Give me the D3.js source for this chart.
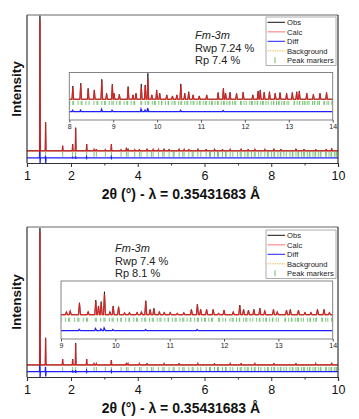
<!DOCTYPE html>
<html><head><meta charset="utf-8">
<script src="https://cdn.jsdelivr.net/npm/d3@7/dist/d3.min.js"></script>
<style>
html,body{margin:0;padding:0;background:#fff;}
svg{display:block;font-family:"Liberation Sans",Arial,sans-serif;}
</style></head>
<body><svg id="c" width="359" height="419"></svg>
<script>
// ---------------- DATA ----------------
const xTickValues = [0.682, 2, 4, 6, 8, 10];
const xTickLabels = ["1", "2", "4", "6", "8", "10"];
const xMinorTicks = [3, 5, 7, 9];
const insetTopTicks = [8, 9, 10, 11, 12, 13, 14];
const insetBottomTicks = [9, 10, 11, 12, 13, 14];
const legendLabels = ["Obs", "Calc", "Diff", "Background", "Peak markers"];
const topStats = ["Fm-3m", "Rwp 7.24 %", "Rp 7.4 %"];
const bottomStats = ["Fm-3m", "Rwp 7.4 %", "Rp 8.1 %"];
const xTitle = "2θ (°) - λ = 0.35431683 Å";
const yTitle = "Intensity";

// Peak-marker (reflection) positions, 2θ in degrees
const reflections = [1.07,1.24,1.75,2.05,2.14,2.47,2.69,2.76,3.03,3.21,3.50,3.66,3.71,3.91,4.05,4.10,4.28,4.41,4.46,4.62,4.75,4.79,4.94,5.06,5.09,5.24,5.35,5.39,5.53,5.63,5.66,5.80,5.89,6.05,6.15,6.18,6.30,6.39,6.42,6.54,6.63,6.65,6.77,6.85,6.99,7.07,7.10,7.21,7.28,7.31,7.41,7.49,7.52,7.62,7.69,7.81,7.89,7.91,8.01,8.08,8.10,8.20,8.27,8.29,8.38,8.45,8.56,8.63,8.65,8.74,8.80,8.82,8.91,8.97,9.00,9.08,9.14,9.16,9.25,9.31,9.33,9.41,9.47,9.49,9.63,9.65,9.73,9.79,9.81,9.89,9.94,9.96,10.04,10.10,10.11,10.19,10.25,10.26,10.34,10.39,10.41,10.49,10.54,10.56,10.63,10.68,10.70,10.77,10.82,10.84,10.91,10.97,10.98,11.05,11.10,11.12,11.19,11.24,11.26,11.32,11.38,11.39,11.46,11.51,11.53,11.59,11.64,11.66,11.72,11.77,11.79,11.90,11.92,11.98,12.03,12.11,12.15,12.17,12.23,12.28,12.29,12.36,12.40,12.42,12.48,12.53,12.60,12.65,12.66,12.72,12.77,12.78,12.84,12.89,12.90,12.96,13.00,13.12,13.13,13.19,13.24,13.25,13.31,13.35,13.37,13.42,13.46,13.54,13.58,13.59,13.65,13.69,13.70,13.80,13.81,13.87,13.91,13.98];

// Top sample, full range: peak positions and heights (obs / calc)
const topPos  = [1.07,1.24,1.75,2.05,2.14,2.47,2.69,2.76,3.03,3.21,3.50,3.66,3.71,3.91,4.05,4.28,4.46,4.62,4.79,4.94,5.24,5.39,5.53,5.80,6.05,6.30,6.54,6.77,7.10,7.31,7.51,7.81,8.08,8.29,8.74,8.98,9.33,9.65,9.81];
const topObs  = [100,21,3.7,5.0,17,5.0,1.0,1.2,0.8,5.0,0.8,2.2,1.5,0.8,1.2,1.5,1.0,1.0,1.5,1.2,1.5,1.0,1.2,1.5,1.2,1.5,1.2,1.0,1.5,1.2,1.0,1.0,1.5,1.2,1.5,1.2,1.2,1.2,2.0];
const topCalc = [96,21,3.7,4.8,16.5,5.0,1.0,1.2,0.8,5.0,0.8,2.2,1.5,0.8,1.2,1.5,1.0,1.0,1.5,1.2,1.5,1.0,1.2,1.5,1.2,1.5,1.2,1.0,1.5,1.2,1.0,1.0,1.5,1.2,1.5,1.2,1.2,1.2,2.0];
const topDiffPos  = [1.07,1.24,2.05,2.14,2.47,3.21];
const topDiffUp   = [11,1.5,0.8,1.0,0.6,0.6];
const topDiffDown = [-4,-4,-0.6,-0.8,-0.4,-0.4];

// Top sample, inset 8–14
const insTopPos  = [8.08,8.26,8.43,8.57,8.74,8.85,8.98,9.02,9.14,9.34,9.45,9.52,9.64,9.73,9.79,9.88,9.99,10.06,10.22,10.35,10.45,10.54,10.63,10.72,10.82,10.96,11.13,11.39,11.51,11.56,11.66,11.81,11.96,12.18,12.30,12.35,12.44,12.56,12.69,12.80,12.95,13.08,13.18,13.24,13.41,13.56,13.71,13.86];
const insTopObs  = [51,62,42,36,77,23,58,23,19,49,17,23,59,55,100,17,36,23,17,13,17,59,23,29,17,13,17,26,42,23,27,23,27,17,32,36,27,29,23,26,23,26,29,32,23,19,23,26];
const insTopCalc = [48,58,40,34,72,21,55,21,18,46,16,22,49,52,80,16,34,22,16,12,16,55,22,27,16,12,16,25,40,22,26,22,26,16,30,34,26,27,22,25,22,25,27,30,22,18,22,25];
const insTopDiffPos = [8.08,8.26,8.74,8.98,9.64,9.73,9.79,10.54,11.51];
const insTopDiffUp  = [5,6,9,5,10,6,14,5,4];

// Bottom sample, full range
const botPos  = [1.07,1.24,1.75,2.05,2.14,2.47,2.69,2.76,3.21,3.66,3.71,4.05,4.28,4.79,5.24,5.80,6.30,6.77,7.10,7.51,8.08,8.74,9.33,9.81];
const botObs  = [100,19.6,4.3,4.3,16,4.3,1.0,1.0,3.6,1.5,1.0,1.0,1.2,1.0,1.2,1.0,1.2,1.0,1.2,1.0,1.2,1.2,1.0,1.5];
const botCalc = [97,20,4.3,4.1,15.5,4.3,1.0,1.0,3.6,1.5,1.0,1.0,1.2,1.0,1.2,1.0,1.2,1.0,1.2,1.0,1.2,1.2,1.0,1.5];
const botDiffPos  = [1.07,1.24,2.05,2.14,2.47,3.21];
const botDiffUp   = [19,3.6,1.0,1.2,0.6,0.6];
const botDiffDown = [-4,-3.6,-0.8,-1.0,-0.4,-0.4];

// Bottom sample, inset 9–14
const insBotPos  = [9.10,9.17,9.34,9.50,9.64,9.69,9.74,9.80,9.90,9.96,10.06,10.17,10.26,10.40,10.48,10.56,10.64,10.71,10.81,10.90,11.01,11.14,11.26,11.40,11.51,11.57,11.68,11.80,11.90,12.00,12.17,12.29,12.36,12.45,12.55,12.66,12.75,12.91,12.98,13.15,13.22,13.37,13.49,13.60,13.72,13.84,13.94];
const insBotObs  = [13,17,52,13,64,38,57,100,13,38,35,9,10,10,13,61,23,28,13,10,10,6,9,23,46,23,23,23,6,20,13,42,23,20,23,28,17,23,13,20,23,20,10,10,23,23,10];
const insBotCalc = [12,16,50,12,58,36,52,90,12,36,33,8,9,9,12,58,22,27,12,9,9,6,8,22,44,22,22,22,6,19,12,40,22,19,22,27,16,22,12,19,22,19,9,9,22,22,9];
const insBotDiffPos = [9.34,9.64,9.74,9.80,9.96,10.56,11.51];
const insBotDiffUp  = [6,9,7,12,5,5,5];

// ---------------- DRAWING ----------------
const svg = d3.select("#c");
const C = {obs:"#111", calc:"rgba(230,30,30,0.85)", calcLeg:"#ff9a9a", diff:"#1f1fff", bg:"#f0a830", mk:"#6cbf6c", frame:"#333", frameTop:"#999"};

function profile(pos, h, hw, x0, x1) {
  const pts = [[x0, 0]];
  pos.forEach((p, i) => { pts.push([p - hw, 0], [p, h[i]], [p + hw, 0]); });
  pts.push([x1, 0]);
  return pts;
}
function diffProfile(pos, up, down, hw, x0, x1) {
  const pts = [[x0, 0]];
  pos.forEach((p, i) => {
    pts.push([p - hw, 0], [p - hw/3, up[i]]);
    if (down) pts.push([p + hw/3, down[i]]);
    pts.push([p + hw, 0]);
  });
  pts.push([x1, 0]);
  return pts;
}

let clipId = 0;
function drawPlot(g, o) {
  const x = d3.scaleLinear().domain(o.xd).range([o.x0, o.x1]);
  const y = d3.scaleLinear().domain(o.yd).range([o.y1, o.y0]);
  const id = "clip" + (clipId++);
  g.append("clipPath").attr("id", id).append("rect")
    .attr("x", o.x0).attr("y", o.y0 - 1).attr("width", o.x1 - o.x0).attr("height", o.y1 - o.y0 + 1);
  if (o.fill) g.append("rect").attr("x", o.x0).attr("y", o.y0).attr("width", o.x1 - o.x0).attr("height", o.y1 - o.y0).attr("fill", "#fff");
  const p = g.append("g").attr("clip-path", `url(#${id})`);
  const base = y(0);
  const line = d3.line().x(d => x(d[0])).y(d => y(d[1]));
  // background
  p.append("path").datum([[o.xd[0], 0], [o.xd[1], 0]]).attr("d", line)
    .attr("fill", "none").attr("stroke", C.bg).attr("stroke-width", 1).attr("stroke-dasharray", "1.2,1.2");
  // peak markers
  p.selectAll(".mk").data(reflections.filter(r => r >= o.xd[0] && r <= o.xd[1])).enter().append("line")
    .attr("x1", d => x(d)).attr("x2", d => x(d))
    .attr("y1", base + o.mk[0]).attr("y2", base + o.mk[1])
    .attr("stroke", C.mk).attr("stroke-width", 0.9);
  // diff
  const dline = d3.line().x(d => x(d[0])).y(d => base + o.dOff - (y(0) - y(d[1])));
  p.append("path").datum(diffProfile(o.dPos, o.dUp, o.dDown, o.hw, o.xd[0], o.xd[1])).attr("d", dline)
    .attr("fill", "none").attr("stroke", C.diff).attr("stroke-width", 1.3);
  // obs & calc
  p.append("path").datum(profile(o.pos, o.obs, o.hw, o.xd[0], o.xd[1])).attr("d", line)
    .attr("fill", "none").attr("stroke", C.obs).attr("stroke-width", 0.8);
  p.append("path").datum(profile(o.pos, o.calc, o.hw, o.xd[0], o.xd[1])).attr("d", line)
    .attr("fill", "none").attr("stroke", C.calc).attr("stroke-width", 1.2);
  return {x, y};
}

function panel(o) {
  const g = svg.append("g");
  const {x} = drawPlot(g, o);
  // frame
  g.append("line").attr("x1", o.x0).attr("x2", o.x1).attr("y1", o.y0).attr("y2", o.y0).attr("stroke", C.frameTop).attr("stroke-width", 1.3);
  g.append("line").attr("x1", o.x1).attr("x2", o.x1).attr("y1", o.y0).attr("y2", o.y1).attr("stroke", C.frame).attr("stroke-width", 1.2);
  g.append("line").attr("x1", o.x0).attr("x2", o.x0).attr("y1", o.y0).attr("y2", o.y1).attr("stroke", C.frame).attr("stroke-width", 1.2);
  // x axis
  const ax = g.append("g").attr("transform", `translate(0,${o.y1})`)
    .call(d3.axisBottom(x).tickValues(xTickValues).tickSize(4).tickPadding(4)
      .tickFormat((d, i) => xTickLabels[i]));
  ax.select(".domain").attr("stroke", C.frame).attr("stroke-width", 1.2);
  ax.selectAll(".tick line").attr("stroke", C.frame);
  ax.selectAll(".tick text").attr("font-size", 12.5).attr("fill", "#111")
    .attr("font-family", "'Liberation Sans',Arial,sans-serif");
  ax.selectAll(".tick").filter((d, i) => i === 0).select("line").remove();
  const mx = g.append("g").attr("transform", `translate(0,${o.y1})`)
    .call(d3.axisBottom(x).tickValues(xMinorTicks).tickSize(2.5).tickFormat(""));
  mx.select(".domain").remove();
  mx.selectAll(".tick line").attr("stroke", C.frame);
  // titles
  g.append("text").attr("x", 181).attr("y", o.y1 + 36).attr("text-anchor", "middle")
    .attr("font-size", 14).attr("font-weight", "bold").attr("fill", "#111").text(xTitle);
  g.append("text").attr("transform", `translate(21,${(o.y0 + o.y1) / 2}) rotate(-90)`)
    .attr("text-anchor", "middle").attr("font-size", 13.5).attr("font-weight", "bold").attr("fill", "#111").text(yTitle);
  // inset
  const ig = g.append("g");
  const ins = o.inset;
  const r = drawPlot(ig, Object.assign({fill: true}, ins));
  ig.append("rect").attr("x", ins.x0).attr("y", ins.y0).attr("width", ins.x1 - ins.x0).attr("height", ins.y1 - ins.y0)
    .attr("fill", "none").attr("stroke", "#777").attr("stroke-width", 0.9);
  const iax = ig.append("g").attr("transform", `translate(0,${ins.y1})`)
    .call(d3.axisBottom(r.x).tickValues(ins.ticks).tickSize(2.5).tickPadding(2).tickFormat(d3.format("d")));
  iax.select(".domain").remove();
  iax.selectAll(".tick line").attr("stroke", "#555");
  iax.selectAll(".tick text").attr("font-size", 7).attr("fill", "#222")
    .attr("font-family", "'Liberation Sans',Arial,sans-serif");
  // stats text
  const st = g.append("g").attr("font-size", 11).attr("fill", "#222");
  o.stats.forEach((s, i) => {
    st.append("text").attr("x", o.statX).attr("y", o.statY + i * 12.5)
      .attr("font-style", i === 0 ? "italic" : "normal").text(s);
  });
  // legend
  const lg = g.append("g").attr("transform", `translate(${o.legX},${o.legY})`);
  lg.append("rect").attr("x", 0).attr("y", 0).attr("width", 70).attr("height", 48.5)
    .attr("fill", "#fff").attr("stroke", "#999").attr("stroke-width", 0.8);
  const lc = [C.obs, C.calcLeg, C.diff, C.bg, C.mk];
  legendLabels.forEach((t, i) => {
    const yy = 5.3 + i * 9.5;
    if (i < 4) {
      lg.append("line").attr("x1", 1.5).attr("x2", 19).attr("y1", yy).attr("y2", yy)
        .attr("stroke", lc[i]).attr("stroke-width", i === 1 ? 1.4 : 1)
        .attr("stroke-dasharray", i === 3 ? "1.2,1.2" : null);
    } else {
      lg.append("line").attr("x1", 9).attr("x2", 9).attr("y1", yy - 3).attr("y2", yy + 3)
        .attr("stroke", lc[i]).attr("stroke-width", 1);
    }
    lg.append("text").attr("x", 21).attr("y", yy + 2.8).attr("font-size", 7.6).attr("fill", "#222").text(t);
  });
}

panel({
  x0: 27, x1: 338, y0: 15, y1: 163, xd: [0.682, 10], yd: [-9, 100],
  pos: topPos, obs: topObs, calc: topCalc, hw: 0.012,
  dPos: topDiffPos, dUp: topDiffUp, dDown: topDiffDown, dOff: 7, mk: [1, 6],
  stats: topStats, statX: 195, statY: 39, legX: 266, legY: 17,
  inset: {x0: 69.3, x1: 332.7, y0: 72.5, y1: 120, xd: [8, 14], yd: [-80, 103], ticks: insetTopTicks,
    pos: insTopPos, obs: insTopObs, calc: insTopCalc, hw: 0.018,
    dPos: insTopDiffPos, dUp: insTopDiffUp, dDown: null, dOff: 12.4, mk: [1.7, 5.7]}
});
panel({
  x0: 27, x1: 338, y0: 227, y1: 377, xd: [0.682, 10], yd: [-8.8, 100.7],
  pos: botPos, obs: botObs, calc: botCalc, hw: 0.012,
  dPos: botDiffPos, dUp: botDiffUp, dDown: botDiffDown, dOff: 6.7, mk: [2, 7],
  stats: bottomStats, statX: 115, statY: 252, legX: 266, legY: 230,
  inset: {x0: 61, x1: 332.7, y0: 281, y1: 339, xd: [9, 14], yd: [-105.6, 146.5], ticks: insetBottomTicks,
    pos: insBotPos, obs: insBotObs, calc: insBotCalc, hw: 0.018,
    dPos: insBotDiffPos, dUp: insBotDiffUp, dDown: null, dOff: 16, mk: [3, 7]}
});
</script></body></html>
